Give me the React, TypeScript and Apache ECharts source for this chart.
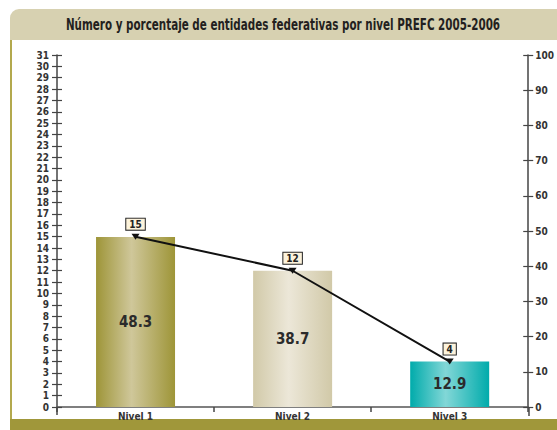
import React, { useEffect, useRef } from "react";
import * as echarts from "echarts";

const title = "Número y porcentaje de entidades federativas por nivel PREFC 2005-2006";
const categories = ["Nivel 1", "Nivel 2", "Nivel 3"];
const counts = [15, 12, 4];
const percents = [48.3, 38.7, 12.9];
const barGradients = [
  ["#9e9538", "#cfc79a", "#9e9538"],
  ["#d1c9a8", "#ece7d8", "#d1c9a8"],
  ["#00abab", "#82d7d7", "#00abab"],
];

const FONT = "'Liberation Sans Narrow', 'DejaVu Sans Condensed', 'Open Sans', sans-serif";

export default function App() {
  const ref = useRef<HTMLDivElement>(null);
  useEffect(() => {
    if (!ref.current) return;
    const chart = echarts.init(ref.current, null, { renderer: "svg" });
    const grad = (c: string[]) =>
      new echarts.graphic.LinearGradient(0, 0, 1, 0, [
        { offset: 0, color: c[0] },
        { offset: 0.45, color: c[1] },
        { offset: 1, color: c[2] },
      ]);
    const axisLabelStyle = { fontFamily: FONT, fontSize: 10, fontWeight: "bold", color: "#333" };
    chart.setOption({
      animation: false,
      backgroundColor: "#ffffff",
      textStyle: { fontFamily: FONT },
      graphic: [
        {
          type: "rect",
          shape: { x: 10, y: 9, width: 547, height: 31, r: [9, 0, 0, 0] },
          style: { fill: "#d7d1b1" },
          silent: true,
        },
        {
          type: "text",
          x: 283,
          y: 24,
          scaleX: 0.72,
          style: {
            text: title,
            fontFamily: FONT,
            fontSize: 16,
            fontWeight: "bold",
            fill: "#231f20",
            align: "center",
            verticalAlign: "middle",
          },
        },
        {
          type: "rect",
          shape: { x: 10, y: 40, width: 2, height: 380 },
          style: { fill: "#b3a94e" },
          silent: true,
        },
        {
          type: "rect",
          shape: { x: 10, y: 419, width: 547, height: 11 },
          style: { fill: "#a0973a" },
          silent: true,
        },
        {
          type: "line",
          shape: { x1: 57, y1: 407, x2: 57, y2: 415 },
          style: { stroke: "#444", lineWidth: 1.5 },
        },
        {
          type: "line",
          shape: { x1: 529, y1: 407, x2: 529, y2: 416 },
          style: { stroke: "#444", lineWidth: 1.5 },
        },
      ],
      grid: { left: 57, right: 28, top: 55, bottom: 23, containLabel: false },
      xAxis: {
        type: "category",
        data: categories,
        axisLine: { lineStyle: { color: "#555", width: 1.5 } },
        axisTick: { show: true, length: 5, lineStyle: { color: "#444", width: 1.5 } },
        axisLabel: { ...axisLabelStyle, fontSize: 10, margin: 4 },
      },
      yAxis: [
        {
          type: "value",
          position: "left",
          min: 0,
          max: 31,
          interval: 1,
          axisLine: { show: true, lineStyle: { color: "#444", width: 1.5 } },
          axisTick: { show: true, length: 5, lineStyle: { color: "#444", width: 1.2 } },
          axisLabel: { ...axisLabelStyle, margin: 8 },
          splitLine: { show: false },
        },
        {
          type: "value",
          position: "right",
          min: 0,
          max: 100,
          interval: 10,
          axisLine: { show: true, lineStyle: { color: "#444", width: 1.5 } },
          axisTick: { show: true, length: 5, lineStyle: { color: "#444", width: 1.2 } },
          axisLabel: { ...axisLabelStyle, margin: 7 },
          splitLine: { show: false },
        },
        {
          type: "value",
          position: "left",
          min: 0,
          max: 31,
          interval: 1,
          axisLine: { show: false },
          axisTick: { show: true, inside: true, length: 5, lineStyle: { color: "#444", width: 1.2 } },
          axisLabel: { show: false },
          splitLine: { show: false },
        },
        {
          type: "value",
          position: "right",
          min: 0,
          max: 100,
          interval: 10,
          axisLine: { show: false },
          axisTick: { show: true, inside: true, length: 5, lineStyle: { color: "#444", width: 1.2 } },
          axisLabel: { show: false },
          splitLine: { show: false },
        },
      ],
      series: [
        {
          type: "bar",
          yAxisIndex: 1,
          barWidth: 79,
          data: percents.map((v, i) => ({ value: v, itemStyle: { color: grad(barGradients[i]) } })),
          label: {
            show: true,
            position: "inside",
            fontFamily: FONT,
            fontSize: 15,
            fontWeight: "bold",
            color: "#2b2b2b",
          },
          z: 2,
        },
        {
          type: "line",
          yAxisIndex: 0,
          data: counts,
          lineStyle: { color: "#111", width: 2 },
          itemStyle: { color: "#111" },
          symbol: "triangle",
          symbolSize: [8, 6],
          symbolRotate: 180,
          label: {
            show: true,
            position: "top",
            distance: 4,
            fontFamily: FONT,
            fontSize: 10,
            fontWeight: "bold",
            color: "#222",
            backgroundColor: "#fdf3dc",
            borderColor: "#222",
            borderWidth: 1,
            padding: [1, 3, 0, 3],
          },
          z: 3,
        },
      ],
    });
    return () => chart.dispose();
  }, []);
  return (
    <div
      ref={ref}
      style={{ position: "fixed", left: 0, top: 0, width: 557, height: 430 }}
    />
  );
}
